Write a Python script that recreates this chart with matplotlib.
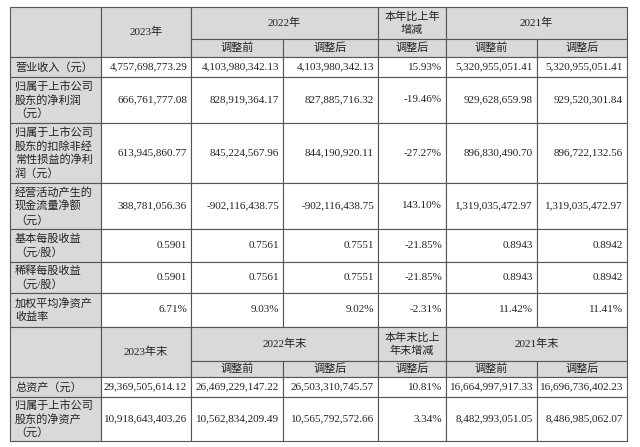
import matplotlib
matplotlib.use("Agg")
import matplotlib.pyplot as plt
from matplotlib.patches import Rectangle

plt.rcParams['font.family'] = ['Liberation Serif', 'Noto Sans CJK SC']

# row labels and values
labels = ['营业收入（元）', '归属于上市公司\n股东的净利润\n（元）',
          '归属于上市公司\n股东的扣除非经\n常性损益的净利\n润（元）',
          '经营活动产生的\n现金流量净额\n（元）', '基本每股收益\n（元/股）',
          '稀释每股收益\n（元/股）', '加权平均净资产\n收益率']
values = [
    ['4,757,698,773.29', '4,103,980,342.13', '4,103,980,342.13', '15.93%', '5,320,955,051.41', '5,320,955,051.41'],
    ['666,761,777.08', '828,919,364.17', '827,885,716.32', '-19.46%', '929,628,659.98', '929,520,301.84'],
    ['613,945,860.77', '845,224,567.96', '844,190,920.11', '-27.27%', '896,830,490.70', '896,722,132.56'],
    ['388,781,056.36', '-902,116,438.75', '-902,116,438.75', '143.10%', '1,319,035,472.97', '1,319,035,472.97'],
    ['0.5901', '0.7561', '0.7551', '-21.85%', '0.8943', '0.8942'],
    ['0.5901', '0.7561', '0.7551', '-21.85%', '0.8943', '0.8942'],
    ['6.71%', '9.03%', '9.02%', '-2.31%', '11.42%', '11.41%'],
]
labels2 = ['总资产（元）', '归属于上市公司\n股东的净资产\n（元）']
values2 = [
    ['29,369,505,614.12', '26,469,229,147.22', '26,503,310,745.57', '10.81%', '16,664,997,917.33', '16,696,736,402.23'],
    ['10,918,643,403.26', '10,562,834,209.49', '10,565,792,572.66', '3.34%', '8,482,993,051.05', '8,486,985,062.07'],
]
head1 = ['2023年', '2022年', '本年比上年\n增减', '2021年']
head2 = ['2023年末', '2022年末', '本年末比上\n年末增减', '2021年末']
sub = ['调整前', '调整后', '调整后', '调整前', '调整后']

xs = [10, 101, 191, 283, 378, 446, 537, 627]
gray = '#d9d9d9'
line = '#555555'
fs = 8

fig = plt.figure(figsize=(6.4, 4.47), dpi=100)
ax = fig.add_axes([0, 0, 1, 1])
ax.set_xlim(0, 640)
ax.set_ylim(447, 0)
ax.axis('off')


def cell(x0, x1, y0, y1, text='', fill='white', ha='center'):
    ax.add_patch(Rectangle((x0, y0), x1 - x0, y1 - y0, facecolor=fill,
                           edgecolor=line, linewidth=0.8))
    if not text:
        return
    if ha == 'left':
        tx = x0 + 5
    elif ha == 'right':
        tx = x1 - 4
    else:
        tx = (x0 + x1) / 2
    ax.text(tx, (y0 + y1) / 2, text, ha=ha, va='center', fontsize=fs,
            linespacing=1.35, color='#222222')


def header(y0, ym, y1, h):
    cell(xs[0], xs[1], y0, y1, '', gray)
    cell(xs[1], xs[2], y0, y1, h[0], gray)
    cell(xs[2], xs[4], y0, ym, h[1], gray)
    cell(xs[4], xs[5], y0, ym, h[2], gray)
    cell(xs[5], xs[7], y0, ym, h[3], gray)
    for i, s in enumerate(sub):
        cell(xs[i + 2], xs[i + 3], ym, y1, s, gray)


def body(rows_y, labs, vals):
    for r, (lab, row) in enumerate(zip(labs, vals)):
        y0, y1 = rows_y[r], rows_y[r + 1]
        cell(xs[0], xs[1], y0, y1, lab, gray, 'left')
        for c, v in enumerate(row):
            cell(xs[c + 1], xs[c + 2], y0, y1, v, 'white', 'right')


header(7, 39, 57, head1)
body([57, 77, 123, 183, 229, 262, 293, 327], labels, values)
header(327, 361, 377, head2)
body([377, 397, 441], labels2, values2)

fig.savefig('out.png', dpi=100)
